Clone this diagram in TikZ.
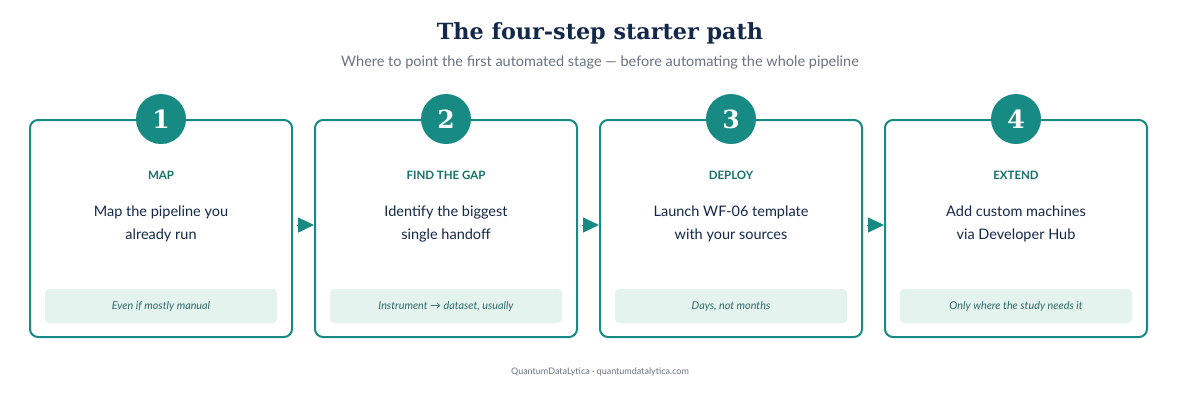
\documentclass[tikz,border=0pt]{standalone}
\usepackage{fontspec}
\setmainfont{Lato}
\newfontfamily\titlefont{DejaVu Serif}
\usetikzlibrary{arrows.meta}
\definecolor{tealmain}{HTML}{178A84}
\definecolor{tealdark}{HTML}{15706B}
\definecolor{navy}{HTML}{14284B}
\definecolor{palegreen}{HTML}{E4F3EE}
\definecolor{notetext}{HTML}{2E6B67}
\definecolor{subgray}{HTML}{6B7280}
\tikzset{
  card/.style={draw=tealmain, line width=2pt, rounded corners=8pt, fill=white,
    minimum width=262pt, minimum height=217pt},
  badge/.style={circle, fill=tealmain, minimum size=50pt, inner sep=0pt,
    text=white, font=\titlefont\bfseries\fontsize{25}{25}\selectfont},
  heading/.style={text=tealdark, font=\bfseries\fontsize{11.5}{12}\selectfont},
  body/.style={text=navy, align=center, font=\fontsize{14.5}{23}\selectfont},
  note/.style={fill=palegreen, rounded corners=4pt, minimum width=232pt,
    minimum height=34pt, text=notetext, font=\itshape\fontsize{10.8}{12}\selectfont},
  flow/.style={draw=tealmain, line width=1pt, shorten <=4pt,
    -{Triangle[length=16pt,width=15pt]}}
}
\begin{document}
\begin{tikzpicture}[x=1pt, y=1pt]
  %%%%% START %%%%%
  \useasboundingbox (0, 0) rectangle (1200, -405);

  \node[text=navy, font=\titlefont\bfseries\fontsize{22.3}{24}\selectfont] (title) at (600, -33) {The four-step starter path};
  \node[text=subgray, font=\fontsize{14.5}{16}\selectfont] (subtitle) at (600, -62) {Where to point the first automated stage — before automating the whole pipeline};

  % cards
  \node[card] (map) at (161, -228.5) {};
  \node[card] (gap) at (446, -228.5) {};
  \node[card] (deploy) at (731, -228.5) {};
  \node[card] (extend) at (1016, -228.5) {};

  \node[badge] (n1) at (map.north) {1};
  \node[badge] (n2) at (gap.north) {2};
  \node[badge] (n3) at (deploy.north) {3};
  \node[badge] (n4) at (extend.north) {4};

  \node[heading] (h1) at (161, -175) {MAP};
  \node[heading] (h2) at (446, -175) {FIND THE GAP};
  \node[heading] (h3) at (731, -175) {DEPLOY};
  \node[heading] (h4) at (1016, -175) {EXTEND};

  \node[body] (b1) at (161, -224) {Map the pipeline you\\already run};
  \node[body] (b2) at (446, -224) {Identify the biggest\\single handoff};
  \node[body] (b3) at (731, -224) {Launch WF-06 template\\with your sources};
  \node[body] (b4) at (1016, -224) {Add custom machines\\via Developer Hub};

  \node[note] (t1) at (161, -306) {Even if mostly manual};
  \node[note] (t2) at (446, -306) {Instrument → dataset, usually};
  \node[note] (t3) at (731, -306) {Days, not months};
  \node[note] (t4) at (1016, -306) {Only where the study needs it};

  % arrows between cards
  \draw[flow] ([yshift=3.5pt]map.east) -- ([yshift=3.5pt]gap.west);
  \draw[flow] ([yshift=3.5pt]gap.east) -- ([yshift=3.5pt]deploy.west);
  \draw[flow] ([yshift=3.5pt]deploy.east) -- ([yshift=3.5pt]extend.west);

  \node[text=subgray, font=\fontsize{9}{10}\selectfont] (credit) at (600, -372) {QuantumDataLytica · quantumdatalytica.com};
  %%%%% END %%%%%
\end{tikzpicture}
\end{document}
